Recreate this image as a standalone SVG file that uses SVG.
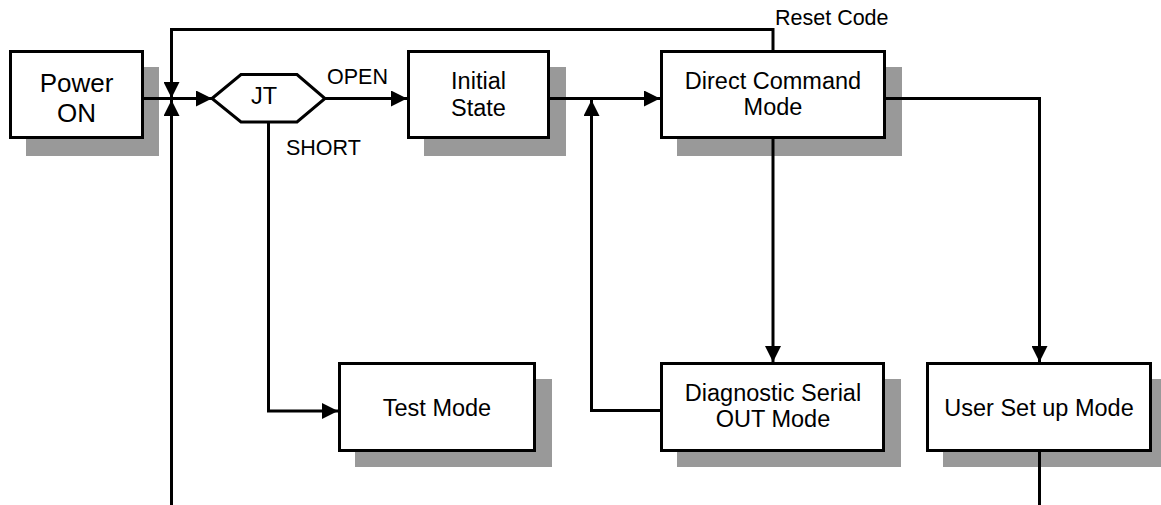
<svg xmlns="http://www.w3.org/2000/svg" width="1161" height="505" viewBox="0 0 1161 505">
<style>
.box{fill:#fff;stroke:#000;stroke-width:3}
.sh{fill:#999}
.t{font-family:"Liberation Sans",Arial,sans-serif;font-size:23.5px;fill:#000;text-anchor:middle}
.big{font-size:26px}
.lbl{font-family:"Liberation Sans",Arial,sans-serif;font-size:21.5px;fill:#000}
.ln{fill:none;stroke:#000;stroke-width:3}
</style>
<defs>
<marker id="ah" markerUnits="userSpaceOnUse" markerWidth="16" markerHeight="16" viewBox="0 0 15 15" refX="15" refY="7.5" orient="auto">
<path d="M0,0 L15,7.5 L0,15 Z" fill="#000"/>
</marker>
</defs>
<rect width="1161" height="505" fill="#fff"/>
<g id="power-on">
<rect class="sh" x="26" y="67" width="133" height="89"/>
<rect class="box" x="10.5" y="51.5" width="132" height="86"/>
<text class="t big" x="76.5" y="92">Power</text>
<text class="t big" x="76.5" y="122">ON</text>
</g>
<g id="jt">
<polygon class="box" points="212,98.5 241,74.5 297,74.5 325,98.5 297,122 241,122"/>
<text class="t" x="264" y="104">JT</text>
</g>
<g id="initial-state">
<rect class="sh" x="424" y="67" width="142" height="89"/>
<rect class="box" x="408.5" y="51.5" width="140" height="86"/>
<text class="t" x="478.5" y="89">Initial</text>
<text class="t" x="478.5" y="116">State</text>
</g>
<g id="direct-command-mode">
<rect class="sh" x="677" y="67" width="225" height="89"/>
<rect class="box" x="661.5" y="51.5" width="223" height="86"/>
<text class="t" x="773" y="89">Direct Command</text>
<text class="t" x="773" y="115">Mode</text>
</g>
<g id="test-mode">
<rect class="sh" x="355" y="379" width="197" height="88"/>
<rect class="box" x="339.5" y="363.5" width="195" height="87"/>
<text class="t" x="437" y="416">Test Mode</text>
</g>
<g id="diagnostic-serial-out-mode">
<rect class="sh" x="677" y="379" width="224" height="88"/>
<rect class="box" x="661.5" y="363.5" width="222" height="87"/>
<text class="t" x="773" y="401">Diagnostic Serial</text>
<text class="t" x="773" y="427">OUT Mode</text>
</g>
<g id="user-set-up-mode">
<rect class="sh" x="943" y="379" width="225" height="88"/>
<rect class="box" x="927.5" y="363.5" width="223" height="87"/>
<text class="t" x="1039" y="416">User Set up Mode</text>
</g>
<g id="connectors">
<path class="ln" d="M144,98.5 H212" marker-end="url(#ah)"/>
<path class="ln" d="M773,50 V29.5 H171.5 V98" marker-end="url(#ah)"/>
<path class="ln" d="M171.5,505 V100" marker-end="url(#ah)"/>
<path class="ln" d="M325,98.5 H407" marker-end="url(#ah)"/>
<path class="ln" d="M268.5,122 V411 H338" marker-end="url(#ah)"/>
<path class="ln" d="M550,98.5 H660" marker-end="url(#ah)"/>
<path class="ln" d="M660,410.5 H591.5 V100" marker-end="url(#ah)"/>
<path class="ln" d="M773,139 V362" marker-end="url(#ah)"/>
<path class="ln" d="M886,98.5 H1039.5 V362" marker-end="url(#ah)"/>
<path class="ln" d="M1039.5,452 V505"/>
<text class="lbl" x="327" y="84">OPEN</text>
<text class="lbl" x="286" y="155">SHORT</text>
<text class="lbl" x="775" y="25">Reset Code</text>
</g>
</svg>
